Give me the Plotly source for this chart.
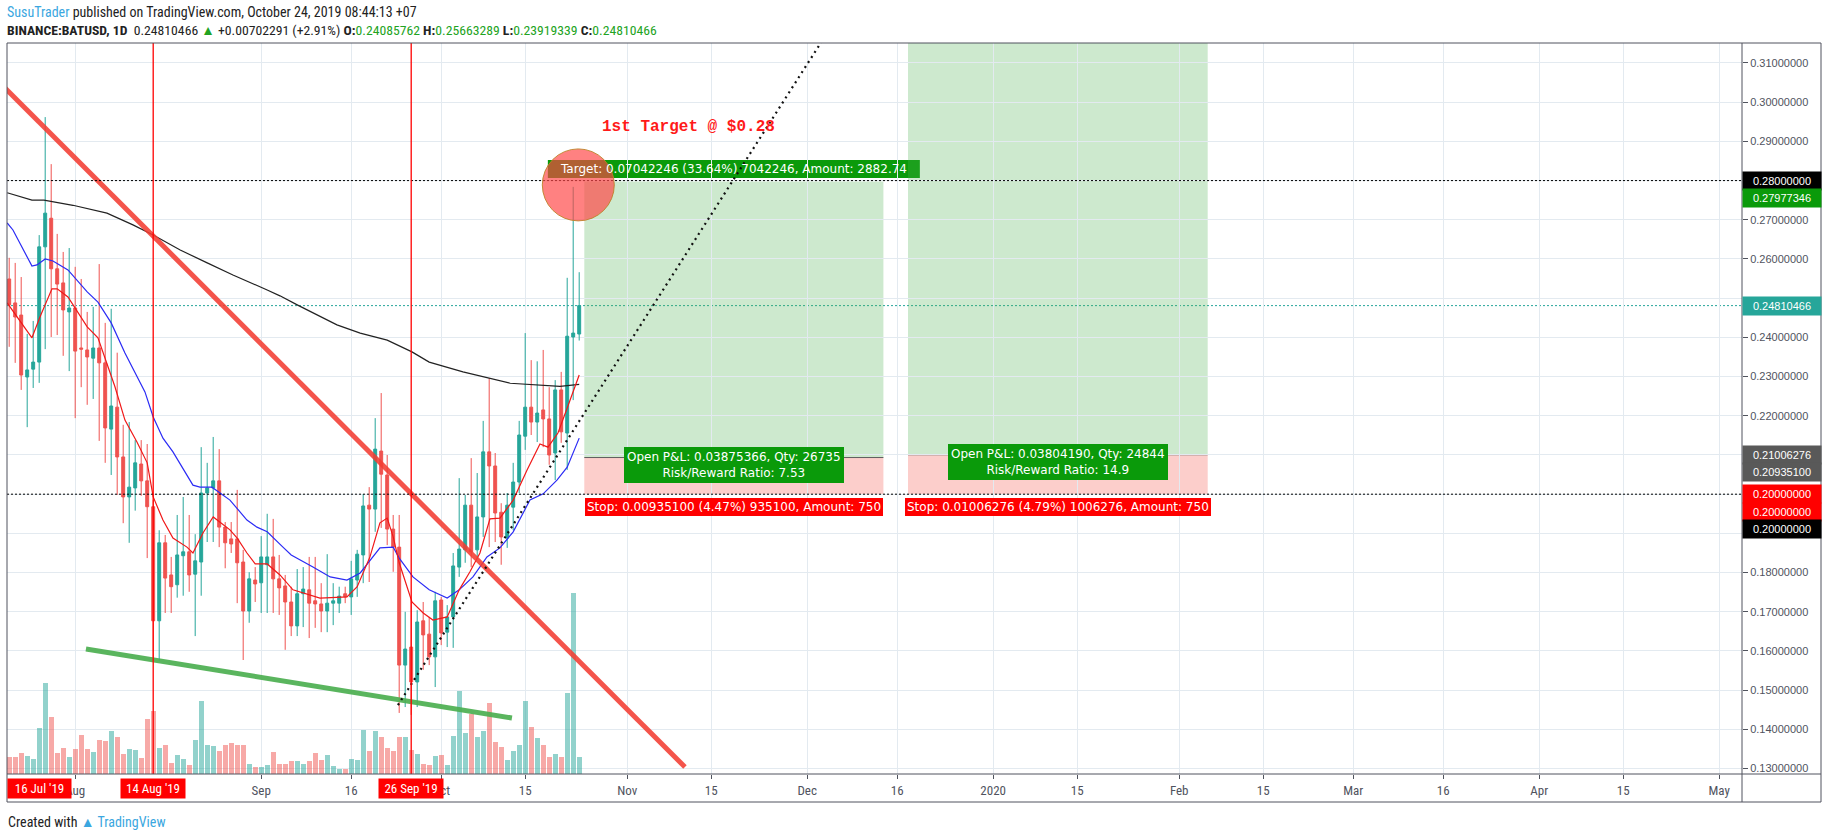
import plotly.graph_objects as go
import pandas as pd

# ---------------- data ----------------
dates = pd.date_range("2019-07-21", "2019-10-24", freq="D")

opens = [0.2549, 0.2488, 0.2457, 0.2299, 0.2319, 0.2337, 0.2631, 0.2704, 0.2575, 0.2539, 0.2465,
         0.2475, 0.2373, 0.2368, 0.2347, 0.2373, 0.2335, 0.2166, 0.2222, 0.2095, 0.1993, 0.2016,
         0.2077, 0.2034, 0.1968, 0.1677, 0.1876, 0.1794, 0.1769, 0.1843, 0.1853, 0.1796, 0.1827,
         0.2003, 0.2016, 0.2034, 0.1916, 0.1886, 0.1886, 0.1827, 0.1702, 0.1781,
         0.1774, 0.1820, 0.1840, 0.1784, 0.1766, 0.1725, 0.1664, 0.1746, 0.1756, 0.1728, 0.1720,
         0.1702, 0.1722, 0.1722, 0.1746, 0.1738, 0.1781, 0.1845, 0.1972, 0.1962, 0.2110, 0.2049,
         0.1911, 0.1865, 0.1564, 0.1610, 0.1521, 0.1677, 0.1643, 0.1585,
         0.1730, 0.1648, 0.1687, 0.1814, 0.1858, 0.1972, 0.1858, 0.1942, 0.2108, 0.2072, 0.1954,
         0.1888, 0.1967, 0.2031, 0.2148, 0.2222, 0.2184, 0.2215, 0.2192, 0.2105, 0.2266, 0.2156,
         0.2401, 0.24085762]
highs = [0.2603, 0.2590, 0.2554, 0.2409, 0.2442, 0.2661, 0.2962, 0.2842, 0.2664, 0.2618, 0.2628,
         0.2580, 0.2549, 0.2465, 0.2478, 0.2587, 0.2437, 0.2473, 0.2361, 0.2177, 0.2184, 0.2138,
         0.2138, 0.2128, 0.1985, 0.1908, 0.1896, 0.1840, 0.1947, 0.1993, 0.1947, 0.1898, 0.2120,
         0.2080, 0.2146, 0.2115, 0.1929, 0.1929, 0.2011, 0.1858, 0.1801, 0.1814,
         0.1893, 0.1950, 0.1937, 0.1845, 0.1794, 0.1764, 0.1809, 0.1814, 0.1840, 0.1840, 0.1773,
         0.1847, 0.1773, 0.1764, 0.1764, 0.1830, 0.1858, 0.2000, 0.2018, 0.2194, 0.2258, 0.2100,
         0.1947, 0.1947, 0.1700, 0.1730, 0.1704, 0.1725, 0.1687, 0.1751,
         0.1738, 0.1717, 0.1850, 0.2041, 0.1998, 0.2092, 0.2054, 0.2187, 0.2296, 0.2105, 0.1977,
         0.2003, 0.2080, 0.2187, 0.2411, 0.2342, 0.2339, 0.2368, 0.2273, 0.2291, 0.2312, 0.2552,
         0.2784, 0.25663289]
lows = [0.2376, 0.2335, 0.2266, 0.2171, 0.2271, 0.2284, 0.2370, 0.2401, 0.2406, 0.2353, 0.2314,
        0.2194, 0.2273, 0.2228, 0.2243, 0.2136, 0.2080, 0.2049, 0.1998, 0.1926, 0.1876, 0.1958,
        0.1996, 0.1837, 0.1582, 0.1575, 0.1697, 0.1697, 0.1736, 0.1741, 0.1751, 0.1638, 0.1741,
        0.1878, 0.1878, 0.1865, 0.1811, 0.1850, 0.1722, 0.1577, 0.1672, 0.1725,
        0.1697, 0.1697, 0.1697, 0.1692, 0.1603, 0.1638, 0.1638, 0.1661, 0.1633, 0.1659, 0.1648,
        0.1648, 0.1666, 0.1697, 0.1722, 0.1692, 0.1738, 0.1773, 0.1776, 0.1904, 0.1914, 0.1870,
        0.1802, 0.1442, 0.1457, 0.1437, 0.1457, 0.1552, 0.1564, 0.1508,
        0.1615, 0.1610, 0.1608, 0.1789, 0.1825, 0.1814, 0.1837, 0.1891, 0.1865, 0.1878, 0.1820,
        0.1863, 0.1908, 0.2003, 0.2113, 0.2151, 0.2133, 0.2120, 0.2075, 0.2036, 0.2131, 0.2062,
        0.2240, 0.23919339]
closes = [0.2483, 0.2452, 0.2304, 0.2317, 0.2337, 0.2631, 0.2717, 0.2575, 0.2536, 0.2470, 0.2475,
          0.2365, 0.2370, 0.2350, 0.2373, 0.2335, 0.2169, 0.2225, 0.2095, 0.1993, 0.2018, 0.2080,
          0.2034, 0.1968, 0.1677, 0.1876, 0.1786, 0.1764, 0.1845, 0.1853, 0.1794, 0.1830, 0.2003,
          0.2016, 0.2034, 0.1916, 0.1876, 0.1873, 0.1825, 0.1702, 0.1784, 0.1771,
          0.1840, 0.1840, 0.1784, 0.1761, 0.1725, 0.1664, 0.1746, 0.1758, 0.1722, 0.1720, 0.1702,
          0.1722, 0.1728, 0.1740, 0.1738, 0.1784, 0.1847, 0.1970, 0.1962, 0.2115, 0.2051, 0.1911,
          0.1865, 0.1564, 0.1605, 0.1521, 0.1674, 0.1641, 0.1585, 0.1728,
          0.1646, 0.1687, 0.1817, 0.1860, 0.1972, 0.1853, 0.1942, 0.2108, 0.2072, 0.1952, 0.1891,
          0.1972, 0.2031, 0.2151, 0.2222, 0.2184, 0.2207, 0.2192, 0.2100, 0.2266, 0.2159, 0.2403,
          0.2411, 0.24810466]
volumes = [52, 52, 64, 54, 45, 138, 272, 172, 64, 78, 52,
           75, 117, 75, 67, 102, 99, 129, 111, 60, 75, 72,
           49, 165, 189, 78, 87, 34, 57, 45, 27, 102, 219,
           87, 84, 69, 87, 93, 87, 87, 30, 21,
           21, 27, 66, 30, 30, 39, 38, 30, 40, 62, 42,
           57, 24, 15, 15, 44, 42, 132, 69, 129, 110, 79,
           69, 110, 110, 72, 60, 30, 27, 54,
           57, 27, 114, 249, 122, 180, 112, 129, 214, 97, 82,
           42, 69, 87, 219, 141, 109, 87, 50, 60, 50, 244,
           542, 52]
prev_close = 0.24108175

# moving averages
ma_long_dates = ["2019-07-20 16:00", "2019-07-24 19:00", "2019-07-26 19:00", "2019-07-31 15:00",
                 "2019-08-06 07:00", "2019-08-10 15:00", "2019-08-14 00:00", "2019-08-18 12:00",
                 "2019-08-23 00:00", "2019-08-27 07:00", "2019-09-02 00:00", "2019-09-04 03:00",
                 "2019-09-07 00:00", "2019-09-13 15:00", "2019-09-17 12:00", "2019-09-22 00:00",
                 "2019-09-26 03:00", "2019-09-29 00:00", "2019-10-04 15:00", "2019-10-07 12:00",
                 "2019-10-12 12:00", "2019-10-20 19:00", "2019-10-24 00:00"]
ma_long = [0.2769, 0.2750, 0.2750, 0.2737, 0.2717, 0.2687, 0.2661, 0.2623, 0.2590, 0.2559,
           0.2521, 0.2506, 0.2483, 0.2432, 0.2411, 0.2393, 0.2363, 0.2337, 0.2312, 0.2301,
           0.2283, 0.2275, 0.2280]

ma_mid_dates = ["2019-07-20 16:00", "2019-07-21 15:00", "2019-07-24 19:00", "2019-07-25 15:00",
                "2019-07-27 00:00", "2019-07-28 07:00", "2019-07-30 19:00", "2019-08-03 00:00",
                "2019-08-04 19:00", "2019-08-07 00:00", "2019-08-09 07:00", "2019-08-12 15:00",
                "2019-08-14 00:00", "2019-08-15 15:00", "2019-08-17 07:00", "2019-08-20 15:00",
                "2019-08-21 19:00", "2019-08-23 19:00", "2019-08-26 19:00", "2019-08-29 15:00",
                "2019-08-31 07:00", "2019-09-02 00:00", "2019-09-04 15:00", "2019-09-06 00:00",
                "2019-09-09 15:00", "2019-09-12 12:00", "2019-09-15 07:00", "2019-09-17 12:00",
                "2019-09-20 19:00", "2019-09-23 00:00", "2019-09-24 00:00", "2019-09-26 07:00",
                "2019-09-29 00:00", "2019-10-02 00:00", "2019-10-04 00:00", "2019-10-06 07:00",
                "2019-10-08 15:00", "2019-10-10 19:00", "2019-10-13 00:00", "2019-10-15 19:00",
                "2019-10-18 00:00", "2019-10-20 07:00", "2019-10-22 00:00", "2019-10-24 00:00"]
ma_mid = [0.2692, 0.2674, 0.2582, 0.2585, 0.2600, 0.2595, 0.2572, 0.2516, 0.2490, 0.2437,
          0.2360, 0.2261, 0.2197, 0.2143, 0.2108, 0.2023, 0.2018, 0.2018, 0.1985, 0.1934,
          0.1916, 0.1904, 0.1865, 0.1845, 0.1814, 0.1789, 0.1781, 0.1799, 0.1863, 0.1865,
          0.1837, 0.1789, 0.1756, 0.1735, 0.1756, 0.1789, 0.1840, 0.1863, 0.1904, 0.1985,
          0.2001, 0.2036, 0.2069, 0.2143]

ma_fast_dates = ["2019-07-20 16:00", "2019-07-22 07:00", "2019-07-24 19:00", "2019-07-26 03:00",
                 "2019-07-28 03:00", "2019-07-29 00:00", "2019-07-30 19:00", "2019-08-03 00:00",
                 "2019-08-04 19:00", "2019-08-07 15:00", "2019-08-09 07:00", "2019-08-11 07:00",
                 "2019-08-13 00:00", "2019-08-14 00:00", "2019-08-15 15:00", "2019-08-17 07:00",
                 "2019-08-19 15:00", "2019-08-20 15:00", "2019-08-22 07:00", "2019-08-24 00:00",
                 "2019-08-26 19:00", "2019-08-28 00:00", "2019-08-29 15:00", "2019-08-31 00:00",
                 "2019-09-02 00:00", "2019-09-04 03:00", "2019-09-06 07:00", "2019-09-10 19:00",
                 "2019-09-15 07:00", "2019-09-17 00:00", "2019-09-19 03:00", "2019-09-20 19:00",
                 "2019-09-22 00:00", "2019-09-23 00:00", "2019-09-24 00:00", "2019-09-26 03:00",
                 "2019-09-28 00:00", "2019-09-29 15:00", "2019-10-02 00:00", "2019-10-04 00:00",
                 "2019-10-05 19:00", "2019-10-07 11:00", "2019-10-09 03:00", "2019-10-10 19:00",
                 "2019-10-13 00:00", "2019-10-15 07:00", "2019-10-17 11:00", "2019-10-18 19:00",
                 "2019-10-20 11:00", "2019-10-22 00:00", "2019-10-24 00:00"]
ma_fast = [0.2488, 0.2452, 0.2399, 0.2452, 0.2524, 0.2524, 0.2503, 0.2427, 0.2399, 0.2274,
           0.2189, 0.2133, 0.2080, 0.1993, 0.1934, 0.1888, 0.1865, 0.1850, 0.1901, 0.1942,
           0.1909, 0.1888, 0.1850, 0.1822, 0.1822, 0.1794, 0.1756, 0.1735, 0.1738, 0.1764,
           0.1840, 0.1927, 0.1939, 0.1891, 0.1825, 0.1725, 0.1697, 0.1679, 0.1687, 0.1756,
           0.1802, 0.1850, 0.1937, 0.1939, 0.1985, 0.2061, 0.2128, 0.2120, 0.2156, 0.2220,
           0.2304]

# drawings
falling_line_x = ["2019-07-19 11:00", "2019-11-10 15:00"]
falling_line_y = [0.3049, 0.1304]
support_line_x = ["2019-08-02 19:00", "2019-10-12 19:00"]
support_line_y = [0.1605, 0.1429]
rising_line_x = ["2019-09-23 19:00", "2019-12-04 02:00"]
rising_line_y = [0.1462, 0.3171]
marker_dates = ["2019-08-14", "2019-09-26"]
marker_labels = ["14 Aug '19", "26 Sep '19"]
level_lines = [0.28, 0.20]

# long-position tools
pos_start = ["2019-10-24 20:24", "2019-12-17 19:12"]
pos_end = ["2019-12-13 16:48", "2020-02-05 18:00"]
pos_entry = [0.20935100, 0.21006276]
pos_stop = [0.20000000, 0.20000000]
pos_target = [0.27977346, 0.36000000]
pos_pl_text = ["Open P&amp;L: 0.03875366, Qty: 26735<br>Risk/Reward Ratio: 7.53",
               "Open P&amp;L: 0.03804190, Qty: 24844<br>Risk/Reward Ratio: 14.9"]
pos_stop_text = ["Stop: 0.00935100 (4.47%) 935100, Amount: 750",
                 "Stop: 0.01006276 (4.79%) 1006276, Amount: 750"]
target_text = "Target: 0.07042246 (33.64%) 7042246, Amount: 2882.74"
target_note = "1st Target @ $0.28"
target_note_x = "2019-11-11 07:00"
target_note_y = 0.2937
circle_x = "2019-10-23 20:24"
circle_y = 0.2789

tick_dates = ["2019-08-01", "2019-09-01", "2019-09-16", "2019-10-01", "2019-10-15", "2019-11-01",
              "2019-11-15", "2019-12-01", "2019-12-16", "2020-01-01", "2020-01-15", "2020-02-01",
              "2020-02-15", "2020-03-01", "2020-03-16", "2020-04-01", "2020-04-15", "2020-05-01"]
tick_text = ["Aug", "Sep", "16", "Oct", "15", "Nov", "15", "Dec", "16", "2020", "15", "Feb",
             "15", "Mar", "16", "Apr", "15", "May"]
price_ticks = [0.13, 0.14, 0.15, 0.16, 0.17, 0.18, 0.19, 0.20, 0.21, 0.22,
               0.23, 0.24, 0.25, 0.26, 0.27, 0.28, 0.29, 0.30, 0.31]
hidden_price_ticks = [0.19, 0.20, 0.21, 0.25, 0.28]   # covered by the price tags

# axis tags: (price, colour, vertical shift in px)
axis_tags = [(0.28000000, "#000000", 0), (0.27977346, "#0a9a0a", -17),
             (0.24810466, "#26a69a", 0), (0.21006276, "#595959", 0),
             (0.20935100, "#595959", -14.5), (0.20000000, "#ff0000", 0),
             (0.20000000, "#ff0000", -17.5), (0.20000000, "#000000", -35)]

# ---------------- figure ----------------
GREEN = "#26a69a"
RED = "#ef5350"
FONT = "Liberation Sans, Arial, sans-serif"
LABEL = "DejaVu Sans, Verdana, sans-serif"
NARROW = "Liberation Sans Narrow, Arial Narrow, Roboto Condensed, Liberation Sans, sans-serif"

fig = go.Figure()

vol_colors = ["rgba(38,166,154,0.5)" if c >= o else "rgba(239,83,80,0.5)"
              for o, c in zip(opens, closes)]
fig.add_trace(go.Bar(x=dates, y=volumes, marker=dict(color=vol_colors, line=dict(width=0)),
                     width=0.8 * 86400000, yaxis="y", showlegend=False, hoverinfo="skip"))

fig.add_trace(go.Candlestick(
    x=dates, open=opens, high=highs, low=lows, close=closes, yaxis="y2",
    increasing=dict(line=dict(color=GREEN, width=1), fillcolor=GREEN),
    decreasing=dict(line=dict(color=RED, width=1), fillcolor=RED),
    whiskerwidth=0, showlegend=False))

fig.add_trace(go.Scatter(x=ma_long_dates, y=ma_long, mode="lines", yaxis="y2",
                         line=dict(color="#222222", width=1.2), showlegend=False))
fig.add_trace(go.Scatter(x=ma_mid_dates, y=ma_mid, mode="lines", yaxis="y2",
                         line=dict(color="#2b2bf5", width=1.2), showlegend=False))
fig.add_trace(go.Scatter(x=ma_fast_dates, y=ma_fast, mode="lines", yaxis="y2",
                         line=dict(color="#f01818", width=1.2), showlegend=False))

fig.add_trace(go.Scatter(x=falling_line_x, y=falling_line_y, mode="lines",
                         yaxis="y2", line=dict(color="rgba(242,60,50,0.88)", width=5),
                         showlegend=False))
fig.add_trace(go.Scatter(x=support_line_x, y=support_line_y, mode="lines",
                         yaxis="y2", line=dict(color="rgba(76,175,80,0.92)", width=5),
                         showlegend=False))
fig.add_trace(go.Scatter(x=rising_line_x, y=rising_line_y, mode="lines",
                         yaxis="y2", line=dict(color="#111111", width=2.2, dash="2px,4px"),
                         showlegend=False))

shapes = []
annotations = []

# position tools
for i in range(2):
    s, e = pd.Timestamp(pos_start[i]), pd.Timestamp(pos_end[i])
    mid = (s + (e - s) / 2).strftime("%Y-%m-%d %H:%M")
    s, e = s.strftime("%Y-%m-%d %H:%M"), e.strftime("%Y-%m-%d %H:%M")
    shapes.append(dict(type="rect", xref="x", yref="y2", x0=s, x1=e, y0=pos_entry[i],
                       y1=pos_target[i], fillcolor="rgba(76,175,80,0.28)", line=dict(width=0),
                       layer="below"))
    shapes.append(dict(type="rect", xref="x", yref="y2", x0=s, x1=e, y0=pos_stop[i],
                       y1=pos_entry[i], fillcolor="rgba(244,67,54,0.26)", line=dict(width=0),
                       layer="below"))
    shapes.append(dict(type="line", xref="x", yref="y2", x0=s, x1=e, y0=pos_entry[i],
                       y1=pos_entry[i], line=dict(color="#5d5d5d", width=1), layer="below"))
    annotations.append(dict(x=mid, y=pos_entry[i], xref="x", yref="y2", text=pos_pl_text[i],
                            showarrow=False, yshift=-7, bgcolor="#0a9a0a", borderpad=2,
                            bordercolor="#0a9a0a",
                            font=dict(family=LABEL, size=12, color="white")))
    annotations.append(dict(x=mid, y=pos_stop[i], xref="x", yref="y2", text=pos_stop_text[i],
                            showarrow=False, yshift=-13, bgcolor="#ff0000", borderpad=1,
                            bordercolor="#ff0000",
                            font=dict(family=LABEL, size=12, color="white")))
    if i == 0:
        shapes.append(dict(type="rect", xref="x", yref="y2", xsizemode="pixel",
                           ysizemode="pixel", xanchor=mid, yanchor=pos_target[i],
                           x0=-186, x1=186, y0=3.5, y1=21.5, fillcolor="#0a9a0a",
                           line=dict(width=0), layer="below"))
        annotations.append(dict(x=mid, y=pos_target[i], xref="x", yref="y2", text=target_text,
                                showarrow=False, yshift=12.5,
                                font=dict(family=LABEL, size=12, color="white")))

# level lines
for lv in level_lines:
    shapes.append(dict(type="line", xref="paper", yref="y2", x0=0, x1=1, y0=lv, y1=lv,
                       line=dict(color="#000000", width=1, dash="2px,2px"), layer="above"))
shapes.append(dict(type="line", xref="paper", yref="y2", x0=0, x1=1, y0=closes[-1],
                   y1=closes[-1], line=dict(color=GREEN, width=1, dash="2px,2px"),
                   layer="below"))

# vertical markers
for d in marker_dates:
    shapes.append(dict(type="line", xref="x", yref="paper", x0=d, x1=d, y0=0, y1=1,
                       line=dict(color="#ff0000", width=1.3), layer="above"))

# highlight circle
shapes.append(dict(type="circle", xref="x", yref="y2", xsizemode="pixel", ysizemode="pixel",
                   xanchor=circle_x, yanchor=circle_y, x0=-36, x1=36, y0=-36, y1=36,
                   fillcolor="rgba(255,70,70,0.68)", line=dict(color="rgba(190,130,40,0.9)",
                                                             width=1), layer="above"))

# frame
BOT = -28 / 731
RIGHT = 1814 / 1735
FRAME = "#50535e"
shapes.append(dict(type="rect", xref="paper", yref="paper", x0=0, x1=RIGHT, y0=BOT, y1=1,
                   line=dict(color=FRAME, width=1), layer="above"))
shapes.append(dict(type="line", xref="paper", yref="paper", x0=0, x1=RIGHT, y0=0, y1=0,
                   line=dict(color=FRAME, width=1), layer="above"))
shapes.append(dict(type="line", xref="paper", yref="paper", x0=1, x1=1, y0=BOT, y1=1,
                   line=dict(color=FRAME, width=1), layer="above"))

# target note
annotations.append(dict(x=target_note_x, y=target_note_y, xref="x", yref="y2",
                        text="<b>" + target_note + "</b>", showarrow=False,
                        font=dict(family="Liberation Mono, Courier New, monospace", size=16,
                                  color="#ff1a1a")))

# price axis tags
for p, col, sh in axis_tags:
    annotations.append(dict(x=1, y=p, xref="paper", yref="y2", xanchor="left", yanchor="middle",
                            text="%.8f" % p, showarrow=False, yshift=sh, bgcolor=col,
                            width=74, height=14, borderpad=2, align="center",
                            font=dict(family=FONT, size=11, color="white")))

# date tags at bottom
annotations.append(dict(x=0, y=-14.5 / 731, xref="paper", yref="paper", xanchor="left",
                        yanchor="middle", text="16 Jul '19", showarrow=False, bgcolor="#ff0000",
                        width=59, height=15, borderpad=2,
                        font=dict(family=NARROW, size=13, color="white")))
for d, t in zip(marker_dates, marker_labels):
    annotations.append(dict(x=d, y=-14.5 / 731, xref="x", yref="paper", yanchor="middle",
                            text=t, showarrow=False, bgcolor="#ff0000", width=60, height=15,
                            borderpad=2, font=dict(family=NARROW, size=13, color="white")))

# header
chg = closes[-1] - prev_close
hdr1 = ("<span style='color:#3ba7e0'>SusuTrader</span> published on TradingView.com, "
        "October 24, 2019 08:44:13 +07")
G = "#22a322"
hdr2 = ("<b>BINANCE:BATUSD, 1D</b>  %.8f <span style='color:%s'>▲</span> +%.8f (+%.2f%%) "
        "<b>O:</b><span style='color:%s'>%.8f</span> <b>H:</b><span style='color:%s'>%.8f</span> "
        "<b>L:</b><span style='color:%s'>%.8f</span> <b>C:</b><span style='color:%s'>%.8f</span>"
        % (closes[-1], G, chg, chg / prev_close * 100, G, opens[-1], G, highs[-1], G, lows[-1],
           G, closes[-1]))
annotations.append(dict(x=-2 / 1735, y=1 + 31 / 731, xref="paper", yref="paper", xanchor="left",
                        yanchor="middle", text=hdr1, showarrow=False,
                        font=dict(family=NARROW, size=14, color="#222222")))
annotations.append(dict(x=-2 / 1735, y=1 + 13 / 731, xref="paper", yref="paper", xanchor="left",
                        yanchor="middle", text=hdr2, showarrow=False,
                        font=dict(family=NARROW, size=13.7, color="#222222")))
annotations.append(dict(x=-1 / 1735, y=-48 / 731, xref="paper", yref="paper", xanchor="left",
                        yanchor="middle",
                        text="Created with <span style='color:#3ba7e0'>\u25b2 TradingView</span>",
                        showarrow=False, font=dict(family=NARROW, size=14, color="#222222")))

price_ticktext = ["" if t in hidden_price_ticks else "%.8f" % t for t in price_ticks]

fig.update_layout(
    width=1828, height=839,
    margin=dict(l=7, r=86, t=43, b=65, autoexpand=False),
    paper_bgcolor="white", plot_bgcolor="white",
    showlegend=False, bargap=0,
    shapes=shapes, annotations=annotations,
    xaxis=dict(type="date", range=["2019-07-20 15:12", "2020-05-04 19:12"],
               tickvals=tick_dates, ticktext=tick_text, showgrid=True, gridcolor="#e3eaf0",
               gridwidth=1, ticks="outside", ticklen=4, tickcolor=FRAME, showline=False,
               zeroline=False, rangeslider=dict(visible=False),
               tickfont=dict(family=NARROW, size=13, color="#50535e")),
    yaxis=dict(range=[0, 2193], visible=False, showgrid=False, zeroline=False, fixedrange=True),
    yaxis2=dict(overlaying="y", side="right", range=[0.12862, 0.31510], tickvals=price_ticks,
                ticktext=price_ticktext, showgrid=True, gridcolor="#e3eaf0", gridwidth=1,
                ticks="outside", ticklen=5, tickcolor=FRAME, showline=False, zeroline=False,
                tickfont=dict(family=FONT, size=11, color="#50535e")),
)

fig.write_html("out.html", config={"displayModeBar": False},
               post_script="document.body.style.margin='0';")
